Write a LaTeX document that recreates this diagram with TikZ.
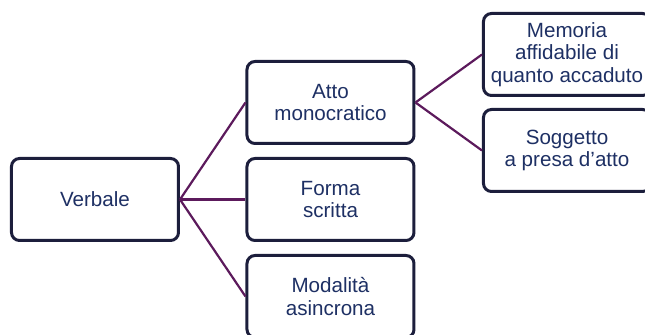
\documentclass[tikz,border=0pt]{standalone}
\usepackage{fontspec}
\setmainfont{Liberation Sans}
\definecolor{boxline}{RGB}{28,30,60}
\definecolor{boxtext}{RGB}{30,48,100}
\definecolor{branch}{RGB}{92,26,92}
\begin{document}
\begin{tikzpicture}[
            x=0.5pt, y=-0.5pt,
            box/.style={rectangle, rounded corners=4pt, draw=boxline, line width=1.5pt, fill=white, minimum width=83.5pt, minimum height=41pt, inner sep=0pt},
            every node/.style={align=center, text=boxtext, font=\fontsize{10.3}{11.4}\selectfont},
            branch line/.style={draw=branch, line width=1.1pt}
    ]
        \clip (0,0) rectangle (645,335);

        % Root
        \node[box] (verbale) at (95,199.5) {Verbale};

        % Second level
        \node[box] (atto) at (330.5,102.5) {Atto\\monocratico};
        \node[box] (forma) at (330.5,199.5) {Forma\\scritta};
        \node[box] (modalita) at (330.5,296.5) {Modalità\\asincrona};

        % Third level
        \node[box] (memoria) at (567,54.5) {Memoria\\affidabile di\\quanto accaduto};
        \node[box] (soggetto) at (567,150.5) {Soggetto\\a presa d’atto};

        % Lines
        \draw[branch line] (verbale.east) -- (atto.west);
        \draw[branch line] (verbale.east) -- (forma.west);
        \draw[branch line] (verbale.east) -- (modalita.west);

        \draw[branch line] (atto.east) -- (memoria.west);
        \draw[branch line] (atto.east) -- (soggetto.west);

    \end{tikzpicture}
\end{document}
